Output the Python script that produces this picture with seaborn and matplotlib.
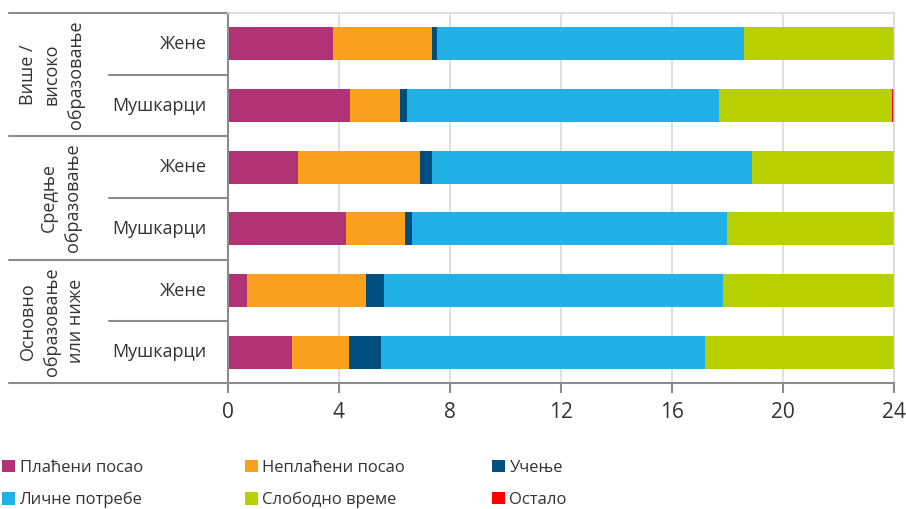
import matplotlib
matplotlib.use('Agg')
import matplotlib.pyplot as plt
import matplotlib.transforms as mtransforms
from matplotlib.patches import Patch
import seaborn as sns
import pandas as pd
import numpy as np

# categories (top to bottom)
groups = ['Више /\nвисоко\nобразовање', 'Средње\nобразовање', 'Основно\nобразовање\nили ниже']
sexes = ['Жене', 'Мушкарци']
series = ['Плаћени посао', 'Неплаћени посао', 'Учење',
          'Личне потребе', 'Слободно време', 'Остало']
colors = ['#B23276', '#F9A11E', '#004E80', '#21B1E7', '#B8D000', '#FF0000']

# hours per day, one value per row (Више Ж, Више М, Средње Ж, Средње М, Основно Ж, Основно М)
paid = [3.79, 4.43, 2.55, 4.27, 0.70, 2.32]
unpaid = [3.59, 1.79, 4.39, 2.14, 4.29, 2.06]
study = [0.17, 0.25, 0.43, 0.23, 0.65, 1.14]
personal = [11.07, 11.25, 11.51, 11.37, 12.22, 11.70]
free = [5.35, 6.23, 5.09, 5.96, 6.11, 6.75]
other = [0.03, 0.05, 0.03, 0.03, 0.03, 0.03]

xticks = [0, 4, 8, 12, 16, 20, 24]

sns.set_style('white')
plt.rcParams['font.family'] = ['Open Sans', 'DejaVu Sans']

rows = [f'{g}|{s}' for g in groups for s in sexes]
df = pd.DataFrame({'row': rows})
values = [paid, unpaid, study, personal, free, other]
cum = np.cumsum(np.array(values), axis=0)
for name, c in zip(series, cum):
    df[name] = c

fig = plt.figure(figsize=(9.06, 5.09), dpi=100)
ax = fig.add_axes([227.5 / 906, 1 - 383 / 509, 666.2 / 906, 370 / 509])

# stacked bars: draw cumulative totals from the last series back to the first
for name, col in reversed(list(zip(series, colors))):
    sns.barplot(data=df, x=name, y='row', color=col, width=0.53,
                orient='h', ax=ax, linewidth=0, saturation=1)

ax.set_xlim(0, 24)
ax.set_ylim(5.5, -0.5)
ax.set_xticks(xticks)
ax.set_xlabel('')
ax.set_ylabel('')
ax.set_yticks([])
ax.grid(axis='x', color='#d9d9d9', linewidth=1.2)
ax.set_axisbelow(True)
for side in ['top', 'right']:
    ax.spines[side].set_color('#d9d9d9')
    ax.spines[side].set_linewidth(1.2)
for side in ['left', 'bottom']:
    ax.spines[side].set_color('#8c8c8c')
    ax.spines[side].set_linewidth(1.5)
ax.tick_params(axis='x', direction='out', length=7, width=1.5, color='#8c8c8c',
               labelsize=15, labelcolor='#333333', pad=7, bottom=True)
ax.plot([0, 0], [0, -0.02], transform=ax.transAxes, color='#8c8c8c',
        linewidth=1.5, clip_on=False)

# category table on the left
tr = mtransforms.blended_transform_factory(fig.transFigure, ax.transData)
x0, x1, x2 = 9 / 906, 109 / 906, 227.5 / 906
for y in [-0.5, 1.5, 3.5, 5.5]:
    ax.plot([x0, x2], [y, y], transform=tr, color='#8c8c8c', linewidth=1.5, clip_on=False)
for y in [0.5, 2.5, 4.5]:
    ax.plot([x1, x2], [y, y], transform=tr, color='#8c8c8c', linewidth=1.5, clip_on=False)

for i, r in enumerate(rows):
    ax.text(207 / 906, i, r.split('|')[1], transform=tr, ha='right', va='center',
            fontsize=13, color='#333333')
group_x = [52 / 906, 61 / 906, 52 / 906]
for j, g in enumerate(groups):
    ax.text(group_x[j], 2 * j + 0.5, g, transform=tr, ha='center', va='center',
            rotation=90, multialignment='center', fontsize=13, color='#333333',
            linespacing=1.45)

# legend, three columns of two entries
handles = [Patch(facecolor=c, edgecolor='none') for c in colors]
col_x = [2 / 906, 245 / 906, 492 / 906]
for k in range(3):
    fig.legend([handles[k], handles[k + 3]], [series[k], series[k + 3]],
               loc='upper left', bbox_to_anchor=(col_x[k], 1 - 460 / 509),
               frameon=False, fontsize=12, handlelength=0.75, handleheight=0.75,
               handletextpad=0.3, labelspacing=0.95, borderaxespad=0,
               borderpad=0, labelcolor='#333333')

fig.savefig('out.png', dpi=100, facecolor='white')
